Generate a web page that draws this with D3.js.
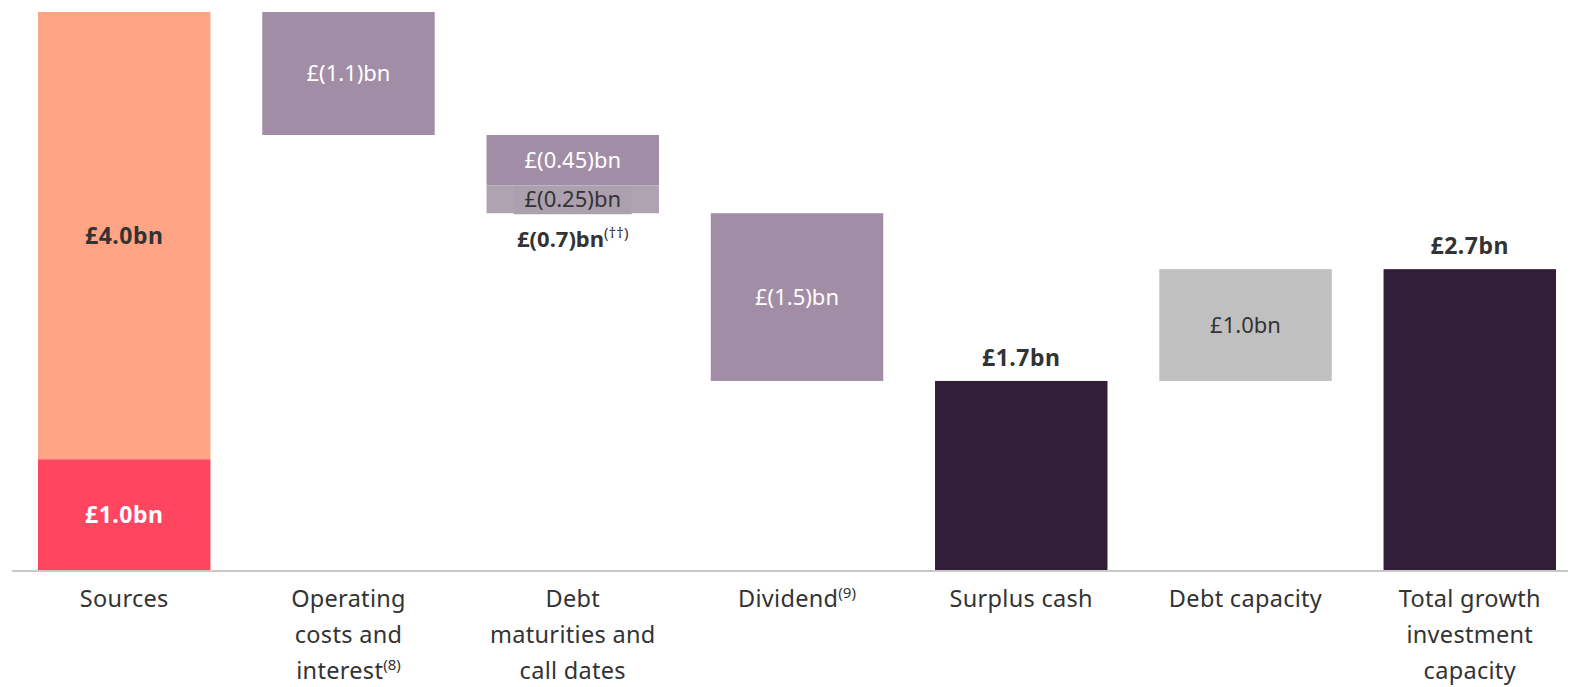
<!DOCTYPE html>
<html>
<head>
<meta charset="utf-8">
<script src="https://cdn.jsdelivr.net/npm/d3@7"></script>
<style>
  html, body { margin: 0; padding: 0; background: #fff; }
  svg { display: block; font-family: "Noto Sans", "Open Sans", sans-serif; }
</style>
</head>
<body>
<svg id="chart" width="1572" height="687"></svg>
<script>
// Categories along the x axis (label lines, optional superscript on last line)
const categories = ["Sources", "Operating costs and interest", "Debt maturities and call dates", "Dividend", "Surplus cash", "Debt capacity", "Total growth investment capacity"];
const categoryLines = [
  [["Sources"]],
  [["Operating"], ["costs and"], ["interest", "(8)"]],
  [["Debt"], ["maturities and"], ["call dates"]],
  [["Dividend", "(9)"]],
  [["Surplus cash"]],
  [["Debt capacity"]],
  [["Total growth"], ["investment"], ["capacity"]]
];

// Segments (£bn): category, start value, end value, fill, label, label colour, label weight
const segStart = [0, 1.0, 5.0, 3.9, 3.45, 3.2, 0, 1.7, 0];
const segEnd   = [1.0, 5.0, 3.9, 3.45, 3.2, 1.7, 1.7, 2.7, 2.7];
const segCat   = [0, 0, 1, 2, 2, 3, 4, 5, 6];
const segFill  = ["#FF455F", "#FFA586", "#A28DA6", "#A28DA6", "#AFA3B2", "#A28DA6", "#331E38", "#C0C0C0", "#331E38"];
const segLabel = ["£1.0bn", "£4.0bn", "£(1.1)bn", "£(0.45)bn", "£(0.25)bn", "£(1.5)bn", "£1.7bn", "£1.0bn", "£2.7bn"];
const segLabelPos = ["inside", "inside", "inside", "inside", "inside", "inside", "above", "inside", "above"];
const segLabelColor = ["#fff", "#333", "#fff", "#fff", "#333", "#fff", "#333", "#333", "#333"];
const segLabelBold = [true, true, false, false, false, false, true, false, true];

// Total for the debt maturities column, shown below its stack
const debtTotalLabel = "£(0.7)bn";
const debtTotalSup = "(††)";
const debtTotalValue = 3.2;

const svg = d3.select("#chart");

const x = d3.scaleBand()
  .domain(categories)
  .range([38, 1556])
  .paddingInner(0.231)
  .paddingOuter(0);

const y = d3.scaleLinear().domain([0, 5]).range([571, 12]);

// Bars
const segs = segStart.map((s, i) => ({
  cat: categories[segCat[i]], s, e: segEnd[i], fill: segFill[i],
  label: segLabel[i], pos: segLabelPos[i], color: segLabelColor[i], bold: segLabelBold[i]
}));

svg.append("g").selectAll("rect")
  .data(segs)
  .join("rect")
  .attr("x", d => x(d.cat))
  .attr("width", x.bandwidth())
  .attr("y", d => y(Math.max(d.s, d.e)))
  .attr("height", d => Math.abs(y(d.s) - y(d.e)))
  .attr("fill", d => d.fill);

// Baseline
svg.append("line")
  .attr("x1", 12).attr("x2", 1568)
  .attr("y1", y(0)).attr("y2", y(0))
  .attr("stroke", "#c8c8c8").attr("stroke-width", 2);

// Backdrop behind the small label in the 0.25 segment
const small = segs[4];
svg.append("rect")
  .attr("x", x(small.cat) + x.bandwidth() / 2 - 59)
  .attr("width", 118)
  .attr("y", y(small.s) + 1)
  .attr("height", y(small.e) - y(small.s))
  .attr("fill", "#ACA0AF");

// Segment labels
svg.append("g").selectAll("text")
  .data(segs)
  .join("text")
  .attr("x", d => x(d.cat) + x.bandwidth() / 2)
  .attr("y", d => d.pos === "inside"
    ? (y(d.s) + y(d.e)) / 2
    : y(Math.max(d.s, d.e)) - 23)
  .attr("dy", "0.35em")
  .attr("text-anchor", "middle")
  .attr("font-size", d => d.bold ? 23 : 22)
  .attr("letter-spacing", d => d.bold ? 0.5 : 0)
  .attr("font-weight", d => d.bold ? 700 : 400)
  .attr("fill", d => d.color)
  .text(d => d.label);

// Debt maturities total label
const dt = svg.append("text")
  .attr("x", x(categories[2]) + x.bandwidth() / 2)
  .attr("y", y(debtTotalValue) + 26)
  .attr("dy", "0.35em")
  .attr("text-anchor", "middle")
  .attr("font-size", 22)
  .attr("font-weight", 700)
  .attr("fill", "#333");
dt.append("tspan").text(debtTotalLabel);
dt.append("tspan").attr("font-size", 15).attr("font-weight", 400).attr("dy", "-0.6em").text(debtTotalSup);

// Category labels
const lab = svg.append("g").selectAll("g")
  .data(categories)
  .join("g")
  .attr("transform", d => `translate(${x(d) + x.bandwidth() / 2},0)`);

lab.each(function(d, i) {
  const g = d3.select(this);
  categoryLines[i].forEach((line, j) => {
    const t = g.append("text")
      .attr("y", 599 + j * 36)
      .attr("dy", "0.35em")
      .attr("text-anchor", "middle")
      .attr("font-size", 23.5)
      .attr("letter-spacing", 0.3)
      .attr("fill", "#333");
    t.append("tspan").text(line[0]);
    if (line[1]) {
      t.append("tspan").attr("font-size", 15).attr("letter-spacing", 0).attr("dy", "-0.6em").text(line[1]);
    }
  });
});
</script>
</body>
</html>
